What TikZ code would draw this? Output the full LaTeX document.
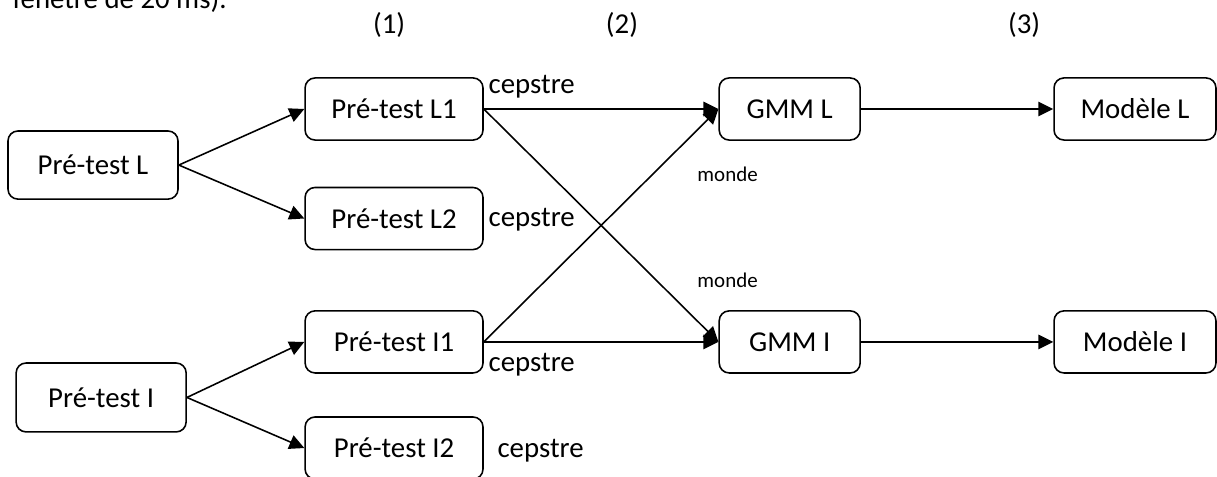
\documentclass[tikz,border=0pt]{standalone}
\usepackage{fontspec}
\setmainfont{Carlito}
\usepackage{tikz}
\usetikzlibrary{arrows.meta}
\usetikzlibrary{positioning}

\tikzset{
  etape/.style={rectangle, rounded corners=3.8pt, draw=black, line width=0.6pt, minimum height=23.7pt, inner sep=0pt, font=\fontsize{11}{13}\selectfont},
  lien/.style={line width=0.6pt, color=black, -{Triangle[length=5.7pt, width=5.5pt]}},
  txt/.style={inner sep=0pt, font=\fontsize{11}{13}\selectfont},
  petit/.style={inner sep=0pt, font=\fontsize{8}{10}\selectfont}
}

\begin{document}
\begin{tikzpicture}
\useasboundingbox (0pt, 0pt) rectangle (464.5pt, -181.7pt);
\node (fen) [txt, anchor=base west] at (4.6pt, -3.4pt) {fenêtre de 20 ms).};
\node (n1) [txt] at (148.5pt, -9.5pt) {(1)};
\node (n2) [txt] at (237.4pt, -9.5pt) {(2)};
\node (n3) [txt] at (390.9pt, -9.5pt) {(3)};
\node (preL) [etape, minimum width=64.9pt, minimum height=26pt] at (35.5pt, -63.0pt) {Pré-test L};
\node (preI) [etape, minimum width=64.9pt, minimum height=26.3pt] at (38.6pt, -151.7pt) {Pré-test I};
\node (preL1) [etape, minimum width=67.9pt] at (150.4pt, -41.6pt) {Pré-test L1};
\node (preL2) [etape, minimum width=67.9pt] at (150.4pt, -83.4pt) {Pré-test L2};
\node (preI1) [etape, minimum width=67.9pt] at (150.4pt, -130.5pt) {Pré-test I1};
\node (preI2) [etape, minimum width=67.9pt] at (150.4pt, -171.0pt) {Pré-test I2};
\node (gmmL) [etape, minimum width=53.8pt] at (301.4pt, -41.6pt) {GMM L};
\node (gmmI) [etape, minimum width=53.8pt] at (301.4pt, -130.5pt) {GMM I};
\node (modL) [etape, minimum width=61.8pt] at (433.2pt, -41.6pt) {Modèle L};
\node (modI) [etape, minimum width=61.8pt] at (433.2pt, -130.5pt) {Modèle I};
\node (cepL1) [txt, anchor=base west] at (186.3pt, -35.5pt) {cepstre};
\node (cepL2) [txt, anchor=base west] at (186.3pt, -86.6pt) {cepstre};
\node (cepI1) [txt, anchor=base west] at (186.3pt, -141.6pt) {cepstre};
\node (cepI2) [txt, anchor=base west] at (189.7pt, -174.8pt) {cepstre};
\node (mondeL) [petit, anchor=base west] at (266.0pt, -69.1pt) {monde};
\node (mondeI) [petit, anchor=base west] at (266.0pt, -109.9pt) {monde};
\draw [lien] (preL.east) to (preL1.west);
\draw [lien] (preL.east) to (preL2.west);
\draw [lien] (preI.east) to (preI1.west);
\draw [lien] (preI.east) to (preI2.west);
\draw [lien] (preL1.east) to (gmmL.west);
\draw [lien] (preL1.east) to (gmmI.west);
\draw [lien] (preI1.east) to (gmmL.west);
\draw [lien] (preI1.east) to (gmmI.west);
\draw [lien] (gmmL.east) to (modL.west);
\draw [lien] (gmmI.east) to (modI.west);
\end{tikzpicture}
\end{document}
